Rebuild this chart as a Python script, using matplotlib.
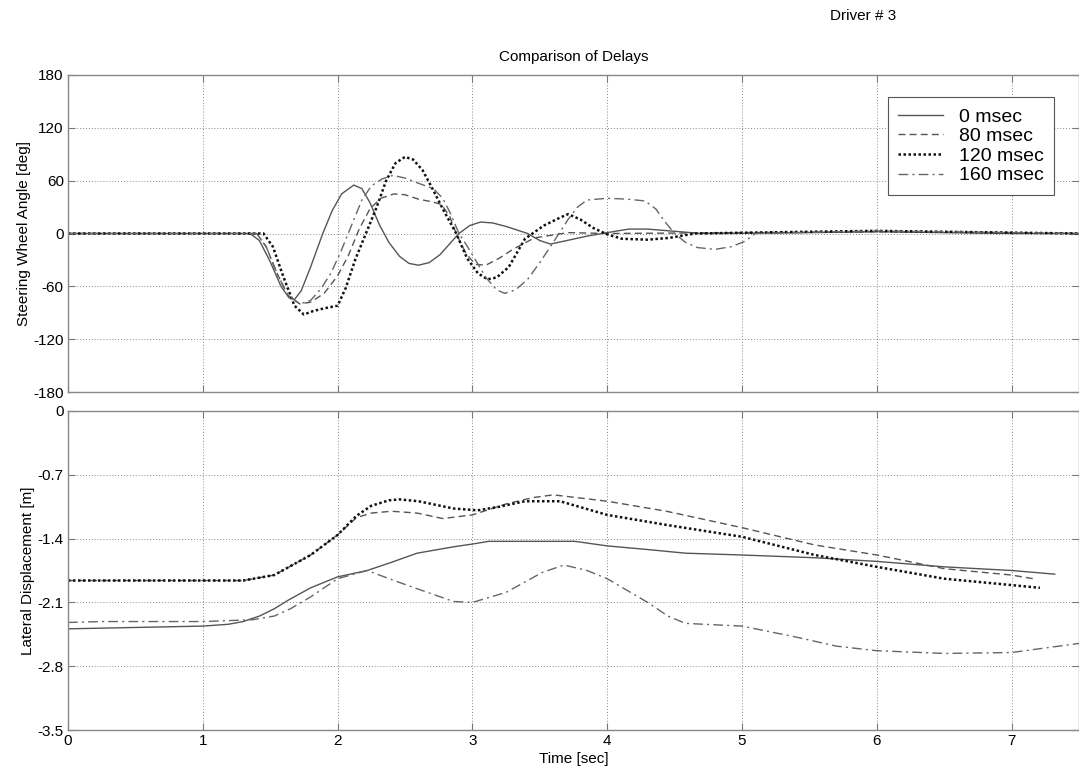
import numpy as np
import matplotlib
matplotlib.use('Agg')
import matplotlib.pyplot as plt

plt.rcParams['font.family'] = ['Liberation Sans', 'DejaVu Sans']
plt.rcParams['axes.unicode_minus'] = False

# --- Данные: угол руля [deg] ---
labels = ['0 msec', '80 msec', '120 msec', '160 msec']

t_ang_0 = [0, 1.35, 1.42, 1.5, 1.58, 1.64, 1.68, 1.73, 1.8, 1.89, 1.96, 2.03, 2.12, 2.18, 2.24,
           2.31, 2.38, 2.46, 2.53, 2.6, 2.68, 2.76, 2.83, 2.9, 2.98, 3.06, 3.15, 3.25, 3.41,
           3.5, 3.58, 3.7, 3.85, 4.0, 4.16, 4.3, 4.46, 4.7, 5.5, 6.0, 6.5, 7.0, 7.5]
ang_0 = [0, 0, -8, -32, -60, -73, -75, -65, -38, 0, 26, 45, 55, 51, 35,
         10, -10, -26, -34, -36, -33, -24, -12, 0, 9, 13, 12, 8, 0,
         -8, -12, -8, -3, 1, 5, 5, 3, 0, 1, 2, 1, 0, 0]

t_ang_80 = [0, 1.4, 1.47, 1.55, 1.63, 1.72, 1.8, 1.9, 2.0, 2.08, 2.16, 2.24, 2.32, 2.42, 2.5,
            2.6, 2.7, 2.77, 2.83, 2.88, 2.95, 3.02, 3.1, 3.2, 3.3, 3.46, 3.71, 4.0, 5.0, 6.0,
            7.0, 7.5]
ang_80 = [0, 0, -15, -45, -70, -80, -78, -68, -48, -25, 5, 28, 40, 45, 44,
          39, 36, 33, 20, 0, -22, -35, -36, -28, -18, -5, 1, 0, 1, 2,
          1, 0]

t_ang_120 = [0, 1.45, 1.52, 1.6, 1.68, 1.75, 1.82, 1.9, 2.0, 2.06, 2.13, 2.21, 2.29, 2.36, 2.43,
             2.5, 2.56, 2.63, 2.7, 2.78, 2.88, 2.96, 3.04, 3.11, 3.18, 3.27, 3.39, 3.53, 3.65,
             3.71, 3.8, 3.9, 4.0, 4.11, 4.3, 4.46, 4.65, 5.5, 6.0, 7.0, 7.5]
ang_120 = [0, 0, -15, -50, -82, -92, -88, -85, -82, -62, -30, 0, 30, 60, 80,
           87, 84, 72, 52, 28, 0, -28, -45, -52, -50, -38, -6, 9, 18,
           22, 16, 6, -1, -6, -7, -5, 0, 2, 3, 1, 0]

t_ang_160 = [0, 1.4, 1.47, 1.55, 1.63, 1.72, 1.8, 1.88, 1.95, 2.02, 2.1, 2.18, 2.25, 2.33, 2.41,
             2.5, 2.6, 2.71, 2.78, 2.84, 2.9, 2.96, 3.03, 3.1, 3.18, 3.24, 3.32, 3.41, 3.5, 3.6,
             3.71, 3.78, 3.85, 4.0, 4.15, 4.28, 4.36, 4.43, 4.5, 4.58, 4.67, 4.8, 4.92, 5.02, 5.1,
             6.0, 7.0, 7.5]
ang_160 = [0, 0, -15, -45, -70, -80, -76, -62, -45, -22, 8, 38, 54, 62, 66,
           63, 57, 51, 40, 22, 0, -14, -32, -50, -64, -68, -64, -52, -33, -10,
           16, 30, 38, 40, 39, 37, 28, 13, 0, -10, -16, -18, -15, -9, 0,
           3, 1, 0]

# --- Данные: боковое смещение [m] ---
t_lat_0 = [0, 1.0, 1.19, 1.3, 1.42, 1.53, 1.64, 1.8, 2.0, 2.22, 2.4, 2.59, 2.86, 3.0, 3.12, 3.5,
           3.76, 4.0, 4.3, 4.58, 5.0, 5.54, 6.0, 6.5, 7.0, 7.32]
lat_0 = [-2.39, -2.36, -2.34, -2.31, -2.25, -2.17, -2.07, -1.94, -1.82, -1.75, -1.66, -1.56, -1.49,
         -1.46, -1.43, -1.43, -1.43, -1.48, -1.52, -1.56, -1.58, -1.61, -1.65, -1.71, -1.75, -1.79]

t_lat_80 = [0, 1.3, 1.53, 1.8, 2.0, 2.14, 2.25, 2.4, 2.59, 2.78, 3.0, 3.25, 3.45, 3.6, 4.0, 4.44,
            5.0, 5.54, 6.0, 6.5, 7.0, 7.16]
lat_80 = [-1.86, -1.86, -1.8, -1.58, -1.36, -1.17, -1.12, -1.10, -1.12, -1.18, -1.14, -1.02, -0.95,
          -0.92, -0.99, -1.10, -1.28, -1.47, -1.58, -1.73, -1.80, -1.84]

t_lat_120 = [0, 1.3, 1.53, 1.8, 2.0, 2.14, 2.25, 2.38, 2.46, 2.6, 2.86, 3.04, 3.2, 3.39, 3.65, 4.0,
             4.44, 5.0, 5.54, 6.0, 6.5, 7.0, 7.21]
lat_120 = [-1.86, -1.86, -1.8, -1.58, -1.36, -1.15, -1.04, -0.98, -0.97, -0.99, -1.07, -1.09, -1.05,
           -0.99, -0.99, -1.14, -1.25, -1.38, -1.58, -1.71, -1.84, -1.91, -1.94]

t_lat_160 = [0, 0.26, 1.0, 1.37, 1.53, 1.65, 1.8, 2.0, 2.22, 2.4, 2.59, 2.86, 3.0, 3.25, 3.52, 3.68,
             3.85, 4.0, 4.15, 4.3, 4.45, 4.58, 5.0, 5.4, 5.7, 6.0, 6.5, 7.0, 7.5]
lat_160 = [-2.32, -2.31, -2.31, -2.29, -2.25, -2.17, -2.04, -1.84, -1.75, -1.85, -1.95, -2.09, -2.1,
           -1.99, -1.77, -1.69, -1.75, -1.84, -1.97, -2.1, -2.25, -2.33, -2.36, -2.48, -2.58, -2.63,
           -2.66, -2.65, -2.55]

x_ticks = [0, 1, 2, 3, 4, 5, 6, 7]
ang_ticks = [180, 120, 60, 0, -60, -120, -180]
lat_ticks = [0, -0.7, -1.4, -2.1, -2.8, -3.5]
lat_ticklabels = ['0', '-0.7', '-1.4', '-2.1', '-2.8', '-3.5']

styles = [
    dict(color='#555555', linestyle='-', linewidth=1.0),
    dict(color='#555555', linestyle=(0, (5, 3)), linewidth=1.0),
    dict(color='#111111', linestyle=(0, (1, 1)), linewidth=1.8),
    dict(color='#666666', linestyle=(0, (7, 3, 1.5, 3)), linewidth=1.0),
]

fig = plt.figure(figsize=(10.79, 7.71), dpi=100)
W, H = 1079, 771
ax1 = fig.add_axes([68 / W, 1 - 392 / H, 1011 / W, 317 / H])
ax2 = fig.add_axes([68 / W, 1 - 730 / H, 1011 / W, 319 / H])


def style_axes(ax):
    ax.set_xlim(0, 7.5)
    ax.set_xticks(x_ticks)
    ax.grid(True, linestyle=(0, (1, 2)), color='#888888', linewidth=0.7)
    ax.tick_params(direction='in', top=True, right=True, length=5, width=0.8,
                   color='#777777', labelsize=11, pad=3)
    for s in ax.spines.values():
        s.set_color('#888888')
        s.set_linewidth(1.0)


ang_sets = [(t_ang_0, ang_0), (t_ang_80, ang_80), (t_ang_120, ang_120), (t_ang_160, ang_160)]
for (t, a), st, lab in zip(ang_sets, styles, labels):
    ax1.plot(t, a, label=lab, **st)
style_axes(ax1)
ax1.set_ylim(-180, 180)
ax1.set_yticks(ang_ticks)
ax1.set_xticklabels([])
ax1.set_ylabel('Steering Wheel Angle [deg]', fontsize=11, labelpad=2)
ax1.set_title('Comparison of Delays', fontsize=11, pad=10)
leg = ax1.legend(loc='upper right', bbox_to_anchor=(0.985, 0.96), fontsize=14,
                 fancybox=False, framealpha=1, edgecolor='#555555',
                 handlelength=2.3, labelspacing=0.1, borderpad=0.55, handletextpad=0.8)
leg.get_frame().set_linewidth(0.8)

lat_sets = [(t_lat_0, lat_0), (t_lat_80, lat_80), (t_lat_120, lat_120), (t_lat_160, lat_160)]
for (t, y), st in zip(lat_sets, styles):
    ax2.plot(t, y, **st)
style_axes(ax2)
ax2.set_ylim(-3.5, 0)
ax2.set_yticks(lat_ticks)
ax2.set_yticklabels(lat_ticklabels)
ax2.set_ylabel('Lateral Displacement [m]', fontsize=11, labelpad=2)
ax2.set_xlabel('Time [sec]', fontsize=11, labelpad=3)

fig.text(0.80, 1 - 16 / H, 'Driver # 3', fontsize=11, ha='center', va='center')

fig.savefig('out.png', dpi=100)
